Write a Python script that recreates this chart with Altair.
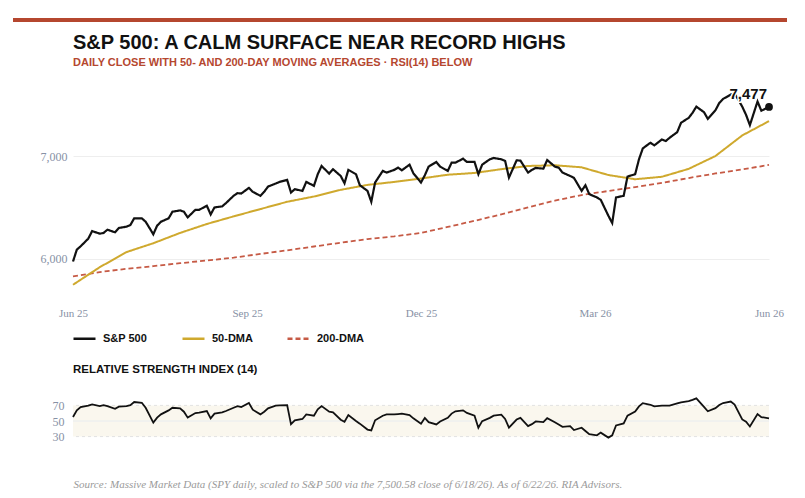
import altair as alt
import pandas as pd

# ---------------- data ----------------
start_date = "2025-06-23"
end_date = "2026-06-22"
tick_dates = ["2025-06-23", "2025-09-22", "2025-12-22", "2026-03-23", "2026-06-22"]
series_names = ["S&P 500", "50-DMA", "200-DMA"]
series_colors = ["#111111", "#cfa92e", "#c65a45"]

# S&P 500 close, every 2nd trading day
price = [5974, 6090, 6122, 6197, 6270, 6245, 6252, 6284, 6258, 6300,
         6313, 6329, 6394, 6394, 6361, 6239, 6323, 6361, 6394, 6458,
         6471, 6458, 6403, 6477, 6477, 6516, 6432, 6500, 6510, 6542,
         6613, 6639, 6635, 6690, 6652, 6613, 6652, 6703, 6732, 6748,
         6768, 6645, 6677, 6661, 6748, 6710, 6823, 6903, 6829, 6871,
         6806, 6735, 6865, 6823, 6716, 6661, 6555, 6742, 6855, 6839,
         6865, 6887, 6861, 6916, 6832, 6742, 6813, 6897,
         6942, 6897, 6855, 6935, 6935, 6974, 6942, 6942, 6823, 6916,
         6968, 6981, 6968, 6952, 6790, 6958, 6955, 6839, 6865, 6884,
         6877, 6961, 6897, 6887, 6839, 6806, 6787, 6661, 6716, 6629,
         6597, 6574, 6419, 6348, 6597, 6613, 6800, 6823, 6968, 7074,
         7129, 7103, 7161, 7145, 7177, 7232, 7323, 7371, 7419, 7480,
         7426, 7361, 7445, 7516, 7555, 7597, 7610, 7480, 7400, 7300,
         7530, 7440, 7477]

# moving averages, every 10th trading day
dma50 = [5748, 5919, 6066, 6152, 6252, 6339, 6413, 6484, 6555, 6606,
         6671, 6719, 6748, 6781, 6818, 6835, 6872, 6903, 6910, 6890,
         6815, 6774, 6798, 6875, 7000, 7200, 7339]
dma200 = [5829, 5872, 5903, 5929, 5958, 5984, 6012, 6048, 6083, 6120,
          6157, 6192, 6219, 6252, 6310, 6370, 6432, 6500, 6566, 6620,
          6660, 6698, 6738, 6786, 6830, 6870, 6913]

# RSI(14), every 2nd trading day
rsi = [55.1, 63.6, 67.9, 69.6, 71.3, 69.1, 70.4, 69.1, 65.7, 68.3,
       69.1, 70.4, 74.3, 73.4, 67.0, 47.9, 54.3, 58.5, 63.6, 67.0,
       66.2, 61.9, 54.3, 60.2, 60.6, 62.8, 53.4, 59.4, 61.1, 62.8,
       67.0, 69.1, 67.9, 73.0, 64.5, 58.5, 61.9, 66.2, 69.6, 70.0,
       70.4, 46.0, 50.9, 52.6, 58.5, 56.8, 64.9, 69.1, 61.9, 61.1,
       51.7, 49.1, 57.7, 50.0, 46.6, 39.0, 38.0, 50.9, 56.8, 58.5,
       58.5, 58.9, 59.4, 57.7, 53.4, 46.6,
       54.0, 48.5, 45.6, 49.4, 54.0, 59.5, 62.4, 63.7, 60.3, 56.9,
       41.4, 49.8, 54.0, 56.9, 58.2, 52.7, 41.4, 51.9, 54.0, 43.5,
       46.0, 49.4, 48.5, 53.6, 48.5, 45.6, 42.6, 43.5, 38.4, 41.4,
       37.2, 33.0, 31.7, 35.1, 28.7, 31.7, 44.3, 46.8, 56.9, 62.0,
       68.7, 72.9, 70.8, 68.7, 69.6, 69.6, 69.6,
       72.5, 74.0, 75.5, 77.0, 79.0, 68.0, 62.5, 66.5, 70.5, 73.0,
       75.0, 71.0, 52.0, 49.0, 43.0, 59.0, 55.0, 53.4]
rsi_levels = [30, 50, 70]
y_ticks = [6000, 7000]

title_text = "S&P 500: A CALM SURFACE NEAR RECORD HIGHS"
subtitle_text = "DAILY CLOSE WITH 50- AND 200-DAY MOVING AVERAGES \u00b7 RSI(14) BELOW"
rsi_title = "RELATIVE STRENGTH INDEX (14)"
footer = ("Source: Massive Market Data (SPY daily, scaled to S&P 500 via the 7,500.58 "
          "close of 6/18/26). As of 6/22/26. RIA Advisors.")

# ---------------- tables ----------------
days = pd.bdate_range(start_date, end_date)
price_dates = days[::2]
ma_dates = days[::10]

df_lines = pd.concat([
    pd.DataFrame({"date": ma_dates, "value": dma200, "series": "200-DMA"}),
    pd.DataFrame({"date": ma_dates, "value": dma50, "series": "50-DMA"}),
    pd.DataFrame({"date": price_dates, "value": price, "series": "S&P 500"}),
], ignore_index=True)
df_last = pd.DataFrame({"date": [price_dates[-1]], "value": [price[-1]]})
df_rsi = pd.DataFrame({"date": price_dates, "rsi": rsi})
df_band = pd.DataFrame({"d0": [start_date], "d1": [end_date],
                        "lo": [rsi_levels[0]], "hi": [rsi_levels[-1]]})
df_levels = pd.DataFrame({"level": rsi_levels})

def to_dt(s):
    y, m, d = (int(p) for p in s.split("-"))
    return alt.DateTime(year=y, month=m, date=d)

SERIF = "Liberation Serif"
SANS = "Liberation Sans"
AXIS_GRAY = "#8791a5"
W = 696

x_main = alt.X("date:T",
               scale=alt.Scale(domain=[to_dt(start_date), to_dt(end_date)]),
               axis=alt.Axis(values=[to_dt(t) for t in tick_dates], format="%b %y",
                             title=None, domain=False, ticks=False, tickSize=0,
                             grid=False, labelFont=SERIF, labelFontSize=11,
                             labelColor=AXIS_GRAY, labelPadding=7, labelFlush=False))
y_main = alt.Y("value:Q",
               scale=alt.Scale(domain=[5600, 7700], nice=False, zero=False),
               axis=alt.Axis(values=y_ticks, format=",.0f", title=None, domain=False,
                             ticks=False, tickSize=0, grid=True, gridColor="#eeeeee",
                             labelFont=SERIF, labelFontSize=12, labelColor=AXIS_GRAY,
                             labelPadding=6, minExtent=33, maxExtent=33))

legend = alt.Legend(title=None, orient="none", legendX=-15, legendY=228,
                    direction="horizontal", symbolType="stroke", symbolSize=484,
                    symbolStrokeWidth=2.5, labelFont=SANS, labelFontSize=11,
                    labelFontWeight="bold", labelColor="#111111", columnPadding=29,
                    labelOffset=6, padding=14)
color = alt.Color("series:N", scale=alt.Scale(domain=series_names, range=series_colors),
                  legend=legend)
dash = alt.StrokeDash("series:N",
                      scale=alt.Scale(domain=series_names, range=[[1, 0], [1, 0], [5, 3]]),
                      legend=legend)

base = alt.Chart(df_lines).encode(x=x_main, y=y_main, color=color, strokeDash=dash)
l200 = base.transform_filter(alt.datum.series == "200-DMA").mark_line(strokeWidth=1.8)
l50 = base.transform_filter(alt.datum.series == "50-DMA").mark_line(strokeWidth=2)
lpx = base.transform_filter(alt.datum.series == "S&P 500").mark_line(strokeWidth=2.2)

dot = alt.Chart(df_last).mark_circle(size=60, color="#111111", opacity=1).encode(
    x="date:T", y="value:Q")
halo = alt.Chart(df_last).mark_text(align="right", dx=-2, dy=-13, fontSize=15,
                                    fontWeight="bold", font=SANS, stroke="white",
                                    strokeWidth=3, fill="white").encode(
    x="date:T", y="value:Q", text=alt.Text("value:Q", format=",.0f"))
label = alt.Chart(df_last).mark_text(align="right", dx=-2, dy=-13, fontSize=15,
                                     fontWeight="bold", font=SANS, color="#111111").encode(
    x="date:T", y="value:Q", text=alt.Text("value:Q", format=",.0f"))

main = alt.layer(l200, l50, lpx, dot, halo, label).properties(
    width=W, height=216,
    title=alt.TitleParams(text=title_text, subtitle=subtitle_text, anchor="start",
                          frame="group", font=SANS, fontSize=20, fontWeight="bold",
                          color="#111111", subtitleFont=SANS, subtitleFontSize=11,
                          subtitleFontWeight="bold", subtitleColor="#b5472f",
                          subtitlePadding=4, offset=16))

# ---------------- RSI panel ----------------
x_rsi_axis = alt.Axis(labels=False, ticks=False, tickSize=0, domain=False, grid=False,
                      title=footer, titleFont=SERIF, titleFontStyle="italic",
                      titleFontSize=11, titleFontWeight="normal", titleColor="#9a9a9a",
                      titleAnchor="start", titleAlign="left", titlePadding=18)
x_scale = alt.Scale(domain=[to_dt(start_date), to_dt(end_date)])
y_rsi = alt.Scale(domain=[0, 100], nice=False)
y_rsi_axis = alt.Axis(values=rsi_levels, title=None, domain=False, ticks=False, tickSize=0,
                      grid=False, labelFont=SERIF, labelFontSize=12, labelColor=AXIS_GRAY,
                      labelPadding=9, labelOverlap=False, labelBound=False,
                      minExtent=33, maxExtent=33)

band = alt.Chart(df_band).mark_rect(color="#faf7ee").encode(
    x=alt.X("d0:T", scale=x_scale, axis=x_rsi_axis), x2="d1:T",
    y=alt.Y("lo:Q", scale=y_rsi, axis=y_rsi_axis), y2="hi:Q")
dashed = alt.Chart(df_levels).transform_filter(alt.datum.level != 50).mark_rule(
    color="#e2e2e2", strokeDash=[3, 3], strokeWidth=1).encode(
    y=alt.Y("level:Q", scale=y_rsi, axis=y_rsi_axis))
mid = alt.Chart(df_levels).transform_filter(alt.datum.level == 50).mark_rule(
    color="#e8ecef", strokeWidth=1).encode(
    y=alt.Y("level:Q", scale=y_rsi, axis=y_rsi_axis))
rsi_line = alt.Chart(df_rsi).mark_line(color="#111111", strokeWidth=1.8).encode(
    x=alt.X("date:T", scale=x_scale, axis=x_rsi_axis),
    y=alt.Y("rsi:Q", scale=y_rsi, axis=y_rsi_axis))

rsi_chart = alt.layer(band, dashed, mid, rsi_line).properties(
    width=W, height=78,
    title=alt.TitleParams(text=rsi_title, anchor="start", frame="group", font=SANS,
                          fontSize=11.5, fontWeight="bold", color="#111111", offset=7))

# ---------------- top accent bar ----------------
bar = alt.Chart(pd.DataFrame({"v": [0]})).mark_rect(color="#b5472f").encode(
    x=alt.value(-60), x2=alt.value(714), y=alt.value(0), y2=alt.value(4)
).properties(width=W, height=10)

chart = alt.vconcat(bar, main, rsi_chart, spacing=5).resolve_scale(
    color="independent", strokeDash="independent"
).properties(
    padding={"left": 13, "top": 18, "right": 5, "bottom": 5}
).configure(background="white", font=SANS, view=alt.ViewConfig(stroke=None))

chart.save("out.html", embed_options={"renderer": "svg", "actions": False})
